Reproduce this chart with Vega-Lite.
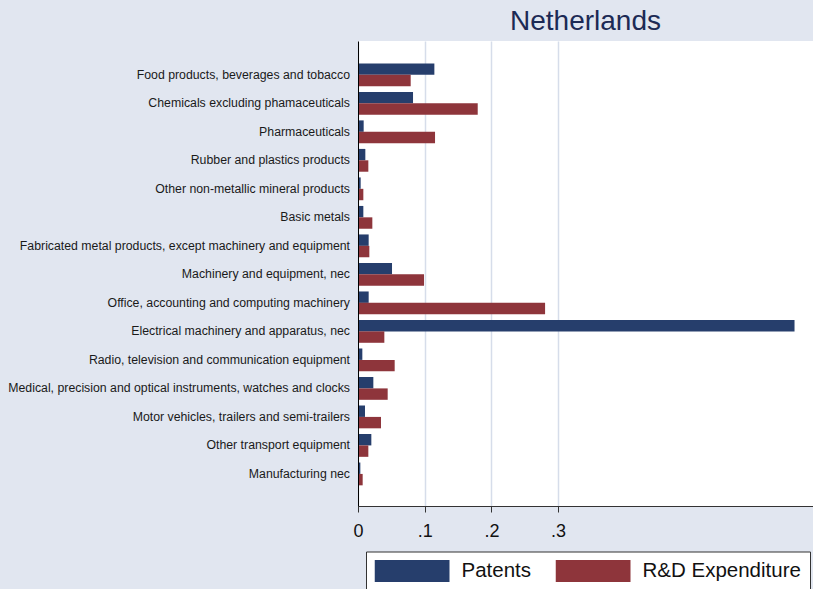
{
  "$schema": "https://vega.github.io/schema/vega-lite/v6.json",
  "width": 455,
  "height": 465,
  "autosize": {"type": "none"},
  "padding": {"left": 358, "top": 41, "right": 0, "bottom": 83},
  "background": "#e1e6f0",
  "config": {
    "font": "Liberation Sans",
    "view": {"fill": "white", "stroke": null}
  },
  "title": {
    "text": "Netherlands",
    "font": "Liberation Sans",
    "fontSize": 28,
    "fontWeight": "normal",
    "color": "#1c2a55",
    "anchor": "middle",
    "frame": "group",
    "baseline": "alphabetic",
    "offset": -17
  },
  "data": {
    "values": [
      {"industry": "Food products, beverages and tobacco", "series": "Patents", "value": 0.1145},
      {"industry": "Food products, beverages and tobacco", "series": "R&D Expenditure", "value": 0.079},
      {"industry": "Chemicals excluding phamaceuticals", "series": "Patents", "value": 0.0825},
      {"industry": "Chemicals excluding phamaceuticals", "series": "R&D Expenditure", "value": 0.1795},
      {"industry": "Pharmaceuticals", "series": "Patents", "value": 0.0085},
      {"industry": "Pharmaceuticals", "series": "R&D Expenditure", "value": 0.1155},
      {"industry": "Rubber and plastics products", "series": "Patents", "value": 0.011},
      {"industry": "Rubber and plastics products", "series": "R&D Expenditure", "value": 0.0155},
      {"industry": "Other non-metallic mineral products", "series": "Patents", "value": 0.004},
      {"industry": "Other non-metallic mineral products", "series": "R&D Expenditure", "value": 0.008},
      {"industry": "Basic metals", "series": "Patents", "value": 0.008},
      {"industry": "Basic metals", "series": "R&D Expenditure", "value": 0.0215},
      {"industry": "Fabricated metal products, except machinery and equipment", "series": "Patents", "value": 0.016},
      {"industry": "Fabricated metal products, except machinery and equipment", "series": "R&D Expenditure", "value": 0.017},
      {"industry": "Machinery and equipment, nec", "series": "Patents", "value": 0.051},
      {"industry": "Machinery and equipment, nec", "series": "R&D Expenditure", "value": 0.099},
      {"industry": "Office, accounting and computing machinery", "series": "Patents", "value": 0.016},
      {"industry": "Office, accounting and computing machinery", "series": "R&D Expenditure", "value": 0.2805},
      {"industry": "Electrical machinery and apparatus, nec", "series": "Patents", "value": 0.6545},
      {"industry": "Electrical machinery and apparatus, nec", "series": "R&D Expenditure", "value": 0.0395},
      {"industry": "Radio, television and communication equipment", "series": "Patents", "value": 0.0065},
      {"industry": "Radio, television and communication equipment", "series": "R&D Expenditure", "value": 0.055},
      {"industry": "Medical, precision and optical instruments, watches and clocks", "series": "Patents", "value": 0.023},
      {"industry": "Medical, precision and optical instruments, watches and clocks", "series": "R&D Expenditure", "value": 0.0445},
      {"industry": "Motor vehicles, trailers and semi-trailers", "series": "Patents", "value": 0.0105},
      {"industry": "Motor vehicles, trailers and semi-trailers", "series": "R&D Expenditure", "value": 0.0345},
      {"industry": "Other transport equipment", "series": "Patents", "value": 0.02},
      {"industry": "Other transport equipment", "series": "R&D Expenditure", "value": 0.0155},
      {"industry": "Manufacturing nec", "series": "Patents", "value": 0.0035},
      {"industry": "Manufacturing nec", "series": "R&D Expenditure", "value": 0.007}
    ]
  },
  "mark": {"type": "bar"},
  "encoding": {
    "y": {
      "field": "industry",
      "type": "nominal",
      "sort": null,
      "scale": {"paddingInner": 0.2, "paddingOuter": 0.755, "align": 0.52},
      "axis": {
        "title": null,
        "ticks": false,
        "tickSize": 0,
        "labelPadding": 8.5,
        "labelFontSize": 12.3,
        "labelColor": "#1a1a1a",
        "labelLimit": 400,
        "domainColor": "#000000",
        "domainWidth": 1,
        "zindex": 1
      }
    },
    "yOffset": {
      "field": "series",
      "type": "nominal",
      "sort": ["Patents", "R&D Expenditure"],
      "scale": {"paddingInner": 0, "paddingOuter": 0}
    },
    "x": {
      "field": "value",
      "type": "quantitative",
      "scale": {"domain": [0, 0.6822], "nice": false, "zero": true},
      "axis": {
        "title": null,
        "values": [0, 0.1, 0.2, 0.3],
        "labelExpr": "datum.value == 0 ? '0' : replace(format(datum.value, '.1f'), '0.', '.')",
        "grid": true,
        "gridColor": "#d6ddea",
        "gridWidth": 1.5,
        "tickSize": 6,
        "tickColor": "#333333",
        "labelPadding": 10.5,
        "labelFontSize": 18,
        "labelColor": "#111111",
        "labelFlush": false,
        "domainColor": "#333333",
        "zindex": 0
      }
    },
    "color": {
      "field": "series",
      "type": "nominal",
      "scale": {"domain": ["Patents", "R&D Expenditure"], "range": ["#263e6c", "#8e353b"]},
      "legend": {
        "title": null,
        "orient": "none",
        "legendX": 8,
        "legendY": 510.5,
        "direction": "horizontal",
        "symbolType": "M-1,-0.2933L1,-0.2933L1,0.2933L-1,0.2933Z",
        "symbolSize": 5625,
        "symbolStrokeWidth": 0,
        "symbolOpacity": 1,
        "clipHeight": 22,
        "labelFontSize": 20.5,
        "labelColor": "#111111",
        "labelOffset": 12,
        "labelLimit": 300,
        "columnPadding": 24,
        "padding": 8.5,
        "fillColor": "white",
        "strokeColor": "#333333"
      }
    }
  }
}
